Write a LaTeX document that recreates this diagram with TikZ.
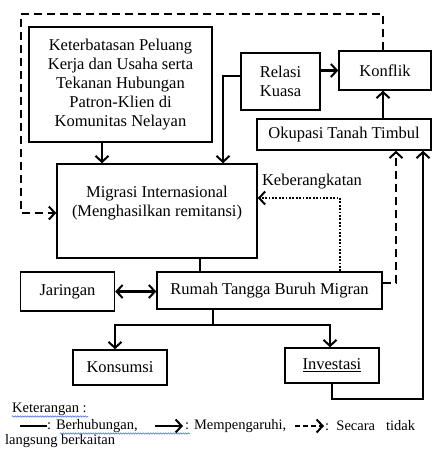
\documentclass[tikz,border=0pt]{standalone}
\usepackage{fontspec}
\setmainfont{Liberation Serif}
\usepackage{tikz}
\usetikzlibrary{arrows.meta,decorations.pathmorphing}
\definecolor{spellblue}{HTML}{5B7BE0}
\tikzset{
  kotak/.style={draw,line width=1.5pt,align=center,inner sep=0pt},
  tip/.tip={Straight Barb[length=6pt,width=13pt,line width=2pt]},
  ar/.style={-tip,line width=2.2pt},
  ln/.style={line width=2.2pt},
  dsh/.style={ar,dash pattern=on 8pt off 5pt},
  dot/.style={ar,dash pattern=on 1.8pt off 1.6pt},
  wavy/.style={spellblue,line width=0.6pt,decorate,decoration={snake,segment length=2.5pt,amplitude=0.7pt}},
  every node/.style={font=\fontsize{16.5}{19}\selectfont},
  ketnode/.style={anchor=west,inner sep=0pt,font=\fontsize{14.5}{16}\selectfont}
}
\begin{document}
\begin{tikzpicture}[x=1pt,y=-1pt]
\useasboundingbox (0,0) rectangle (433,450);
\node[kotak,minimum width=183pt,minimum height=115pt] (ket) at (120.5,84.5)
  {Keterbatasan Peluang\\Kerja dan Usaha serta\\Tekanan Hubungan\\Patron-Klien di\\Komunitas Nelayan};
\node[kotak,minimum width=79pt,minimum height=57pt] (rel) at (280.5,81.5) {Relasi\\Kuasa};
\node[kotak,minimum width=92pt,minimum height=39pt] (kon) at (385,70.5) {Konflik};
\node[kotak,minimum width=174pt,minimum height=31pt] (oku) at (344,134.5) {Okupasi Tanah Timbul};
\node[kotak,minimum width=200pt,minimum height=94pt] (mig) at (157,211)
  {Migrasi Internasional\\(Menghasilkan remitansi)\\ \mbox{}};
\node[inner sep=0pt] (brkt) at (312,182) {Keberangkatan};
\node[kotak,minimum width=94pt,minimum height=39pt] (jar) at (67.5,291.5) {Jaringan};
\node[kotak,minimum width=225pt,minimum height=37pt] (rum) at (269.5,290.5) {Rumah Tangga Buruh Migran};
\node[kotak,minimum width=94pt,minimum height=35pt] (kons) at (120,367.5) {Konsumsi};
\node[kotak,minimum width=94pt,minimum height=35pt] (inv) at (332,365.5) {\underline{Investasi}};

\coordinate (ki) at (21,14);
\coordinate (brk) at (340,198);
\coordinate (dk) at (396,283);
\coordinate (ib) at (423,399);
\coordinate (cab) at (213,325);

\draw[dsh] ([xshift=-2pt]kon.north) |- (ki) |- ([yshift=-2pt]mig.west);
\draw[ar] ([xshift=-18.5pt]ket.south) -- ([xshift=-18.5pt]ket.south |- mig.north);
\draw[ar] ([yshift=5.5pt]rel.west) -| ([xshift=66pt]mig.north);
\draw[ar] (rel.east |- kon.west) -- (kon.west);
\draw[ar] ([xshift=-2pt]oku.north -| kon.south) -- ([xshift=-2pt]kon.south);
\draw[dot] (brk |- rum.north) -- (brk) -- (brk -| mig.east);
\draw[ln] ([xshift=43pt]mig.south) -- ([xshift=43pt]mig.south |- rum.north);
\draw[tip-tip,line width=2.2pt] (jar.east) -- (rum.west |- jar.east);
\draw[dsh] (rum.east |- dk) -| (oku.south -| dk);
\draw[ar] (inv.south) |- (ib) -- (ib |- oku.south);
\draw[ln] (rum.south -| cab) -- (cab);
\draw[ar] (cab) -| ([xshift=-5pt]kons.north);
\draw[ar] (cab) -| ([xshift=-2pt]inv.north);

\node[ketnode] (kt) at (12,409) {Keterangan :};
\node[ketnode] (k1) at (47,426) {: Berhubungan,};
\node[ketnode] (k2) at (185,426) {: Mempengaruhi,};
\node[ketnode] (k3) at (325,426) {:\ \ Secara\ \ \ tidak};
\node[ketnode] (k4) at (5,441) {langsung berkaitan};
\draw[ln] (20,426) -- (47,426);
\draw[ar] (155,426) -- (183,426);
\draw[dsh,dash pattern=on 5pt off 3pt] (295,426) -- (324,426);
\draw[wavy] (12,416.5) -- (88,416.5);
\draw[wavy] (60,433.5) -- (190,433.5);
\end{tikzpicture}
\end{document}
